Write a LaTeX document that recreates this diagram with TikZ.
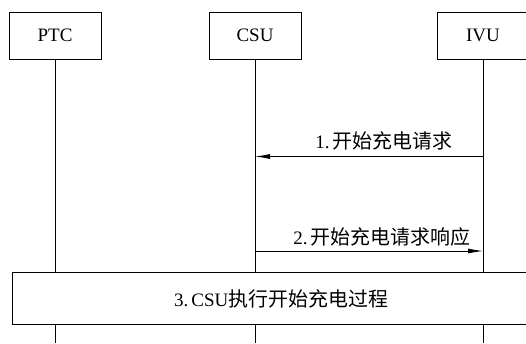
\documentclass[tikz,border=0pt]{standalone}
\usepackage{fontspec}
\setmainfont{Liberation Serif}
\newfontfamily\cjk[Scale=1.05]{Noto Sans CJK SC}
\usetikzlibrary{arrows.meta}
\tikzset{
  actor/.style={draw, line width=0.8pt, minimum width=92pt, minimum height=47pt, inner sep=0pt, font=\fontsize{19}{22}\selectfont},
  life/.style={line width=0.8pt},
  msg/.style={line width=0.8pt, -{Latex[length=15pt,width=5pt]}},
  lbl/.style={font=\fontsize{19}{22}\selectfont, inner sep=0pt},
  proc/.style={draw, line width=0.8pt, minimum width=526pt, minimum height=52pt, inner sep=0pt, font=\fontsize{19}{22}\selectfont}
}
\begin{document}
\begin{tikzpicture}[x=1pt,y=-1pt]
\useasboundingbox (0,0) rectangle (526,343);
\clip (0,0) rectangle (526,343);
\node[actor] (ptc) at (55,35.5) {PTC};
\node[actor] (csu) at (255,35.5) {CSU};
\node[actor] (ivu) at (483,35.5) {IVU};
\node[proc] (p3) at (275,298) {};
\node[lbl] (t3) at (281,299) {3.\,CSU{\cjk 执行开始充电过程}};
\coordinate (ptcEnd) at (55,343);
\coordinate (csuEnd) at (255,343);
\coordinate (ivuEnd) at (483,343);
\draw[life] (ptc.south) -- (ptc.south |- p3.north);
\draw[life] (csu.south) -- (csu.south |- p3.north);
\draw[life] (ivu.south) -- (ivu.south |- p3.north);
\draw[life] (ptc.south |- p3.south) -- (ptcEnd);
\draw[life] (csu.south |- p3.south) -- (csuEnd);
\draw[life] (ivu.south |- p3.south) -- (ivuEnd);
\coordinate (m1s) at (483,156.5);
\coordinate (m1e) at (255,156.5);
\coordinate (m2s) at (255,251);
\coordinate (m2e) at (483,251);
\draw[msg] (m1s) -- (m1e);
\draw[msg] (m2s) -- (m2e);
\node[lbl] (l1) at (384,141) {1.\,{\cjk 开始充电请求}};
\node[lbl] (l2) at (382,237) {2.\,{\cjk 开始充电请求响应}};
\end{tikzpicture}
\end{document}
